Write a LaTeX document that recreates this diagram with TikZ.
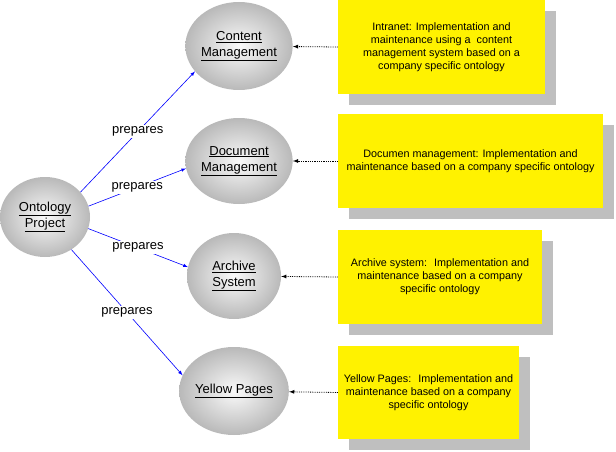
\documentclass[tikz,border=0pt]{standalone}
\usepackage{fontspec}
\setmainfont{Liberation Sans}
\usetikzlibrary{arrows,shapes.geometric,shadows}

\begin{document}
\begin{tikzpicture}[x=1pt,y=-1pt,
  topic/.style={ellipse, inner sep=0pt, shade, shading=radial, inner color=gray!4, outer color=gray!55, font=\fontsize{13}{16}\selectfont, align=center},
  note/.style={rectangle, fill=yellow, inner sep=0pt, font=\fontsize{10.8}{13}\selectfont, align=center, drop shadow={shadow xshift=11pt, shadow yshift=-11pt, fill=black!25, opacity=1}},
  prep/.style={->, >=latex, blue, line width=0.6pt},
  ref/.style={->, >=latex, densely dotted, line width=0.8pt},
  lbl/.style={fill=white, text=black, inner sep=1.5pt, font=\fontsize{13}{16}\selectfont}]
\useasboundingbox (0,0) rectangle (616,452);
\node[topic, minimum width=90, minimum height=80] (onto) at (45,217) {\underline{Ontology}\\\underline{Project}};
\node[topic, minimum width=104, minimum height=88] (cm) at (239,46) {\underline{Content}\\\underline{Management}};
\node[topic, minimum width=104, minimum height=86] (dm) at (239,161) {\underline{Document}\\\underline{Management}};
\node[topic, minimum width=94, minimum height=86] (arc) at (234,276) {\underline{Archive}\\\underline{System}};
\node[topic, minimum width=94, minimum height=88] (yp) at (234,391) {\underline{Yellow Pages}};
\node[note, minimum width=207, minimum height=94] (intra) at (441.5,47) {Intranet: Implementation and\\maintenance using a~ content\\management system based on a\\company specific ontology};
\node[note, minimum width=265, minimum height=94] (docu) at (470.5,161) {Documen management: Implementation and\\maintenance based on a company specific ontology};
\node[note, minimum width=204, minimum height=94] (archsys) at (440,277) {Archive system:~ Implementation and\\maintenance based on a company\\specific ontology};
\node[note, minimum width=181, minimum height=93] (ypages) at (428.5,392.5) {Yellow Pages:~ Implementation and\\maintenance based on a company\\specific ontology};
\draw[prep] (onto.35) -- node[lbl] (p1) {prepares} (cm.210);
\draw[prep] (onto.14) -- node[lbl] (p2) {prepares} (dm.188);
\draw[prep] (onto.-15) -- node[lbl] (p3) {prepares} (arc.169);
\draw[prep] (onto.-51) -- node[lbl] (p4) {prepares} (yp.163);
\draw[ref] (intra.west) -- (cm);
\draw[ref] (docu.west) -- (dm);
\draw[ref] (archsys.west) -- (arc);
\draw[ref] (ypages.west) -- (yp);
\end{tikzpicture}
\end{document}
